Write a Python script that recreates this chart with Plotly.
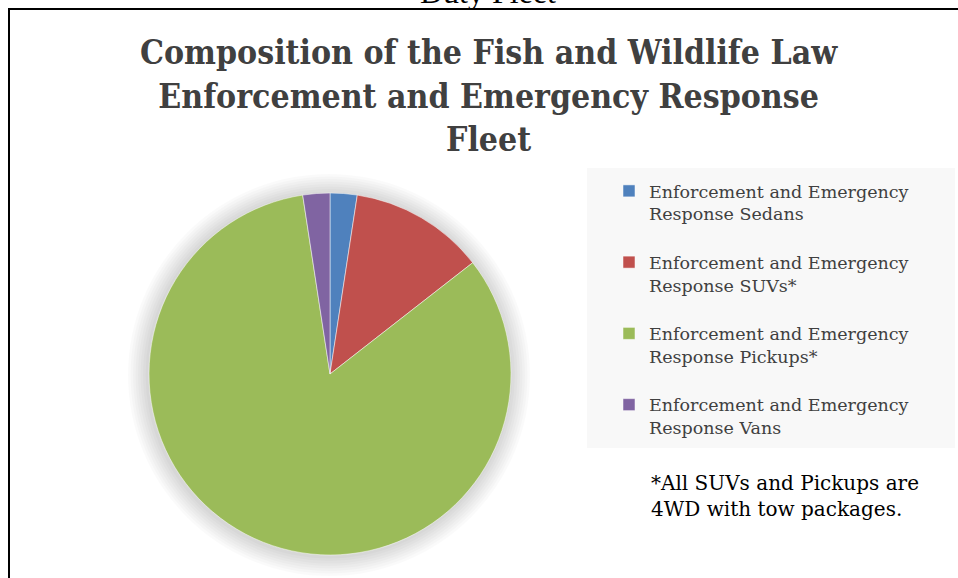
import plotly.graph_objects as go

W, H = 958, 578

# ---- data ----
categories = [
    "Enforcement and Emergency<br>Response Sedans",
    "Enforcement and Emergency<br>Response SUVs*",
    "Enforcement and Emergency<br>Response Pickups*",
    "Enforcement and Emergency<br>Response Vans",
]
vehicle_counts = [4, 20, 138, 4]
slice_colors = ["#4F81BD", "#C0504D", "#9BBB59", "#8064A2"]

title_lines = ["Composition of the Fish and Wildlife Law",
               "Enforcement and Emergency Response",
               "Fleet"]
footnote_lines = ["*All SUVs and Pickups are", "4WD with tow packages."]
page_heading = "Duty Fleet"

# ---- layout helpers (pixel -> paper) ----
def px(x):
    return x / W

def py(y):
    return 1 - y / H

cx, cy, r = 330, 374, 181

fig = go.Figure()
fig.add_trace(go.Pie(
    labels=[c + "<br> " for c in categories],
    values=vehicle_counts,
    marker=dict(colors=slice_colors, line=dict(color="white", width=0.5)),
    sort=False,
    direction="clockwise",
    rotation=0,
    textinfo="none",
    hoverinfo="label+value+percent",
    domain=dict(x=[px(cx - r), px(cx + r)], y=[py(cy + r), py(cy - r)]),
    showlegend=True,
))

shapes = []
# soft shadow around pie
for k in range(8, 0, -1):
    rr = r + k * 2.5
    shapes.append(dict(
        type="circle", xref="paper", yref="paper", layer="below",
        x0=px(cx - rr - 1), x1=px(cx + rr - 1), y0=py(cy + rr + 1), y1=py(cy - rr + 1),
        fillcolor="rgba(0,0,0,0.018)", line=dict(width=0),
    ))
# legend background
shapes.append(dict(
    type="rect", xref="paper", yref="paper", layer="below",
    x0=px(587), x1=px(955), y0=py(448), y1=py(168),
    fillcolor="#F8F8F8", line=dict(width=0),
))
# page frame lines
shapes.append(dict(type="line", xref="paper", yref="paper",
                   x0=px(8), x1=px(958), y0=py(9), y1=py(9),
                   line=dict(color="black", width=2)))
shapes.append(dict(type="line", xref="paper", yref="paper",
                   x0=px(9), x1=px(9), y0=py(9), y1=py(578),
                   line=dict(color="black", width=2)))

annotations = [
    dict(text="<br>".join(title_lines), x=px(489), y=py(96), xref="paper", yref="paper",
         xanchor="center", yanchor="middle", showarrow=False,
         font=dict(family="DejaVu Serif Condensed, DejaVu Serif, serif",
                   size=33.5, color="#404040", weight="bold"), align="center"),
    dict(text="<br>".join(footnote_lines), x=px(649), y=py(496), xref="paper", yref="paper",
         xanchor="left", yanchor="middle", showarrow=False,
         font=dict(family="DejaVu Serif, serif", size=20, color="black"), align="left"),
    dict(text=page_heading, x=px(488), y=py(-8), xref="paper", yref="paper",
         xanchor="center", yanchor="middle", showarrow=False,
         font=dict(family="Liberation Serif, serif", size=32, color="black")),
]

fig.update_layout(
    width=W, height=H,
    margin=dict(l=0, r=0, t=0, b=0),
    paper_bgcolor="white", plot_bgcolor="white",
    shapes=shapes,
    annotations=annotations,
    legend=dict(
        x=px(609), y=py(173), xanchor="left", yanchor="top",
        bgcolor="rgba(0,0,0,0)", valign="top",
        font=dict(family="DejaVu Serif, serif", size=17.5, color="#404040"),
        traceorder="normal",
    ),
)

fig.write_html("out.html")
